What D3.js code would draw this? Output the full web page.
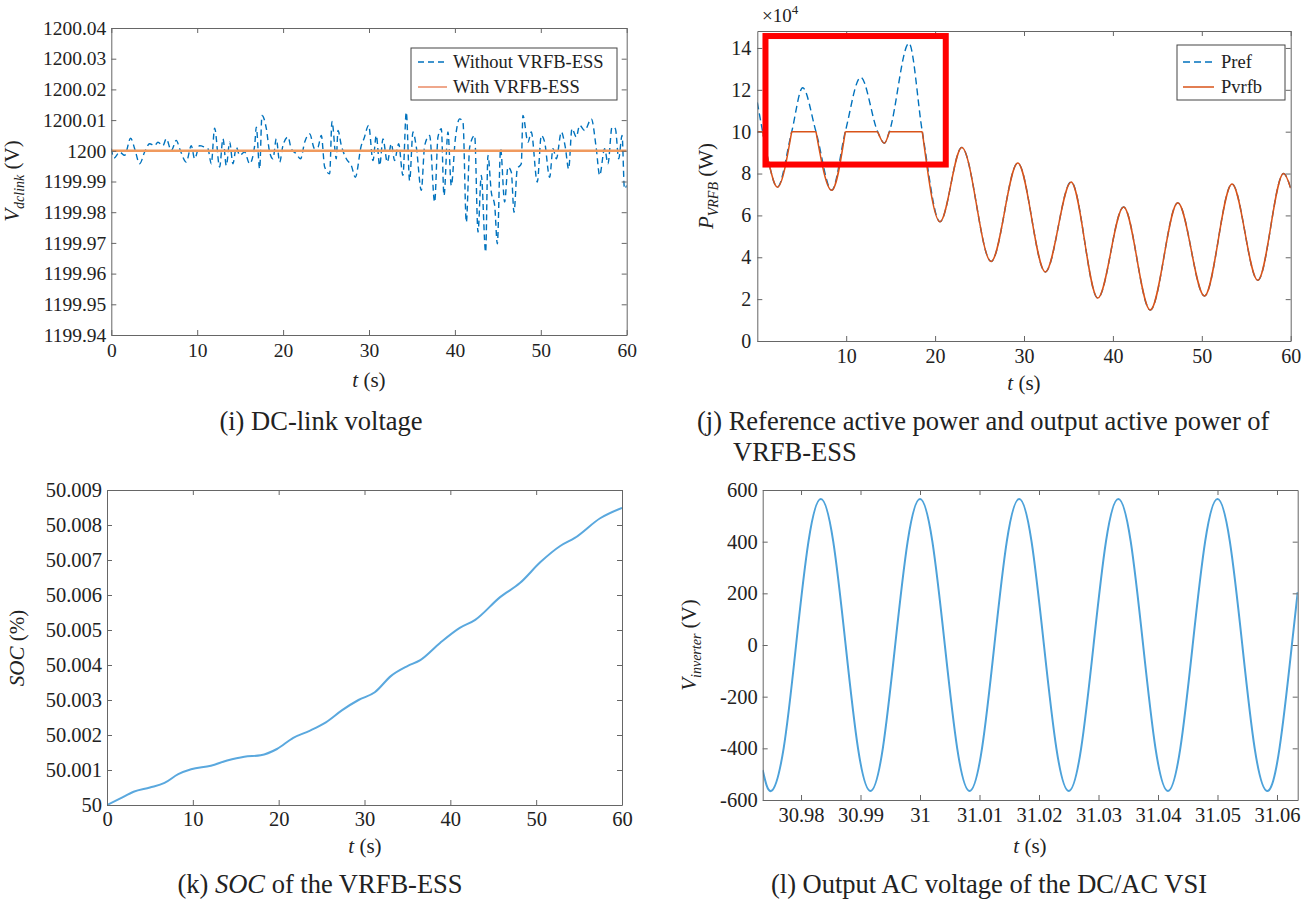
<!DOCTYPE html>
<html><head><meta charset="utf-8">
<script src="https://cdn.jsdelivr.net/npm/d3@7"></script>
<style>
body{margin:0;background:#fff}
text{font-family:"Liberation Serif","Times New Roman",serif;fill:#222}
</style></head>
<body><svg id="c" width="1312" height="901"></svg>
<script>
// ---------------- DATA ----------------
// (i) DC-link voltage
const dcTicksY = [1199.94,1199.95,1199.96,1199.97,1199.98,1199.99,1200,1200.01,1200.02,1200.03,1200.04];
const dcTickLabelsY = ["1199.94","1199.95","1199.96","1199.97","1199.98","1199.99","1200","1200.01","1200.02","1200.03","1200.04"];
const tTicks60 = [0,10,20,30,40,50,60];
const tTickLabels60 = ["0","10","20","30","40","50","60"];
const withoutVRFB = [[0.00,1200.0007],[0.31,1199.9976],[0.97,1199.9996],[1.55,1199.9985],[2.25,1200.0041],[2.72,1200.0007],[3.30,1199.9958],[3.88,1199.9996],[4.46,1200.0023],[5.04,1200.0017],[5.43,1200.0028],[6.01,1200.0017],[6.40,1200.0039],[6.98,1200.0001],[7.57,1200.0034],[7.96,1200.0007],[8.73,1199.9963],[9.31,1200.0017],[9.70,1199.9974],[10.28,1200.0017],[10.87,1200.0012],[11.25,1200.0007],[11.64,1199.9958],[12.03,1200.0074],[12.61,1199.9947],[13.00,1200.0039],[13.39,1199.9952],[13.78,1200.0028],[14.16,1199.9958],[14.55,1200.0012],[14.94,1199.9985],[15.52,1199.9996],[16.10,1199.9958],[16.69,1200.0017],[16.88,1200.0077],[17.27,1199.9941],[17.54,1200.0115],[18.05,1200.0072],[18.43,1199.9996],[18.82,1199.9974],[19.21,1200.0039],[19.60,1199.9963],[19.98,1200.0017],[20.57,1200.0045],[20.95,1200.0007],[21.54,1199.9990],[22.04,1199.9974],[22.51,1200.0028],[23.09,1200.0055],[23.67,1200.0007],[24.06,1200.0012],[24.45,1200.0050],[24.84,1199.9947],[25.42,1199.9925],[25.69,1200.0096],[26.19,1199.9974],[26.39,1200.0066],[26.78,1200.0017],[27.36,1199.9974],[27.94,1199.9952],[28.41,1199.9914],[29.10,1200.0017],[29.41,1200.0039],[29.96,1200.0083],[30.46,1199.9968],[30.85,1200.0050],[31.24,1199.9952],[31.63,1200.0039],[32.13,1199.9963],[32.60,1200.0023],[32.98,1199.9968],[33.45,1200.0023],[33.95,1199.9920],[34.34,1200.0126],[34.73,1199.9903],[35.12,1200.0061],[35.51,1200.0012],[36.09,1199.9871],[36.48,1200.0017],[37.06,1200.0050],[37.64,1199.9833],[38.03,1200.0045],[38.42,1200.0072],[38.73,1199.9854],[39.19,1200.0061],[39.58,1199.9887],[40.05,1200.0039],[40.55,1200.0104],[40.94,1200.0093],[41.33,1199.9767],[41.72,1200.0012],[42.30,1200.0050],[42.69,1199.9735],[43.07,1199.9920],[43.58,1199.9670],[43.85,1199.9985],[44.24,1199.9865],[44.63,1199.9822],[44.94,1199.9697],[45.32,1200.0007],[45.79,1199.9833],[46.18,1199.9947],[46.57,1199.9930],[46.88,1199.9800],[47.26,1199.9941],[47.73,1199.9958],[47.92,1200.0115],[48.51,1200.0028],[48.89,1200.0061],[49.59,1199.9898],[50.06,1200.0050],[50.45,1200.0028],[51.03,1199.9914],[51.42,1200.0007],[51.81,1199.9974],[52.39,1200.0061],[52.85,1200.0012],[53.24,1199.9941],[53.63,1200.0072],[54.13,1200.0045],[54.52,1200.0083],[55.10,1200.0066],[55.88,1200.0104],[56.46,1200.0007],[56.85,1199.9920],[57.43,1200.0007],[57.82,1199.9958],[58.29,1200.0077],[58.68,1200.0072],[59.07,1199.9974],[59.46,1200.0050],[59.74,1199.9876],[60.00,1199.9887]];
const withVRFB = [[0,1200],[60,1200]];
const dcLegend = ["Without VRFB-ESS","With VRFB-ESS"];

// (j) Reference / output active power (x10^4 W)
const pTicksY = [0,2,4,6,8,10,12,14];
const pTickLabelsY = ["0","2","4","6","8","10","12","14"];
const pTicksX = [10,20,30,40,50,60];
const pTickLabelsX = ["10","20","30","40","50","60"];
const prefT = [0,0.6,1.3,2.25,3.87,5.1,6.6,8.37,9.9,11.63,13.54,14.29,14.85,17.06,18.56,20.55,23.0,26.3,29.3,32.4,35.3,38.3,41.2,44.2,47.3,50.3,53.4,56.3,59.2,60];
const prefV = [11.4,10,8.5,7.35,10,12.1,10,7.2,10,12.6,10,9.45,10,14.22,10,5.7,9.25,3.8,8.5,3.3,7.6,2.05,6.4,1.48,6.6,2.15,7.5,2.9,8.0,7.3];
const pvrfbT = [0,0.6,1.3,2.25,3.87,6.6,8.37,9.9,13.54,14.29,14.85,18.56,20.55,23.0,26.3,29.3,32.4,35.3,38.3,41.2,44.2,47.3,50.3,53.4,56.3,59.2,60];
const pvrfbV = [10,10,8.5,7.35,10,10,7.2,10,10,9.45,10,10,5.7,9.25,3.8,8.5,3.3,7.6,2.05,6.4,1.48,6.6,2.15,7.5,2.9,8.0,7.3];
const pLimit = 10;
const pLegend = ["Pref","Pvrfb"];
const highlightBox = {t0:0.92, t1:21.2, v0:8.43, v1:14.57};

// (k) SOC
const socTicksY = [50,50.001,50.002,50.003,50.004,50.005,50.006,50.007,50.008,50.009];
const socTickLabelsY = ["50","50.001","50.002","50.003","50.004","50.005","50.006","50.007","50.008","50.009"];
const socT = [0,1.5,3.1,5.0,6.7,8.3,9.8,12.1,14.0,16.0,17.9,19.8,21.7,23.6,25.5,27.4,29.3,31.2,33.1,35.0,36.5,38.8,41.1,42.9,45.8,48.1,50.5,52.8,54.5,57.5,60];
const socV = [50.00000,50.00018,50.00038,50.00050,50.00063,50.00088,50.00102,50.00112,50.00127,50.00138,50.00142,50.00160,50.00192,50.00212,50.00236,50.00271,50.00300,50.00322,50.00369,50.00397,50.00414,50.00463,50.00506,50.00529,50.00594,50.00634,50.00694,50.00740,50.00763,50.00820,50.00849];

// (l) Inverter output voltage
const vTicksX = [30.98,30.99,31,31.01,31.02,31.03,31.04,31.05,31.06];
const vTickLabelsX = ["30.98","30.99","31","31.01","31.02","31.03","31.04","31.05","31.06"];
const vTicksY = [-600,-400,-200,0,200,400,600];
const vTickLabelsY = ["-600","-400","-200","0","200","400","600"];
const vinvT = [30.97356,30.97500,30.97708,30.97917,30.98125,30.98333,30.98542,30.98750,30.98958,30.99167,30.99375,30.99583,30.99792,31.00000,31.00208,31.00417,31.00625,31.00833,31.01042,31.01250,31.01458,31.01667,31.01875,31.02083,31.02292,31.02500,31.02708,31.02917,31.03125,31.03333,31.03542,31.03750,31.03958,31.04167,31.04375,31.04583,31.04792,31.05000,31.05208,31.05417,31.05625,31.05833,31.06042,31.06250,31.06348];
const vinvV = [-484,-565,-400,0,400,565,400,0,-400,-565,-400,0,400,565,400,0,-400,-565,-400,0,400,565,400,0,-400,-565,-400,0,400,565,400,0,-400,-565,-400,0,400,565,400,0,-400,-565,-400,0,205];

// ---------------- DRAWING ----------------
const svg = d3.select("#c");
const AX = "#666";

function panel(cfg){
  const x = d3.scaleLinear().domain(cfg.xd).range([cfg.L,cfg.R]);
  const y = d3.scaleLinear().domain(cfg.yd).range([cfg.B,cfg.T]);
  svg.append("clipPath").attr("id","cl"+cfg.name).append("rect")
    .attr("x",cfg.L).attr("y",cfg.T).attr("width",cfg.R-cfg.L).attr("height",cfg.B-cfg.T);
  const plot = svg.append("g").attr("clip-path",`url(#cl${cfg.name})`);
  return {x,y,plot,cfg};
}
function axes(p, o){
  const {x,y,cfg} = p;
  const g = svg.append("g");
  const fs = o.fs;
  const style = sel => {
    sel.selectAll(".domain").attr("stroke",AX).attr("stroke-width",1);
    sel.selectAll(".tick line").attr("stroke",AX).attr("stroke-width",1);
    sel.selectAll("text").attr("font-family","Liberation Serif, Times New Roman, serif")
      .attr("font-size",fs).attr("fill","#222");
    sel.attr("font-family",null).attr("font-size",null);
  };
  g.append("g").attr("transform",`translate(0,${cfg.B})`)
    .call(d3.axisBottom(x).tickValues(o.xt).tickFormat((d,i)=>o.xl[i]).tickSize(-5).tickSizeOuter(0).tickPadding(o.xpad))
    .call(style);
  g.append("g").attr("transform",`translate(0,${cfg.T})`)
    .call(d3.axisTop(x).tickValues(o.xt).tickFormat(()=>"").tickSize(-5).tickSizeOuter(0))
    .call(style);
  g.append("g").attr("transform",`translate(${cfg.L},0)`)
    .call(d3.axisLeft(y).tickValues(o.yt).tickFormat((d,i)=>o.yl[i]).tickSize(-5).tickSizeOuter(0).tickPadding(o.ypad))
    .call(style);
  g.append("g").attr("transform",`translate(${cfg.R},0)`)
    .call(d3.axisRight(y).tickValues(o.yt).tickFormat(()=>"").tickSize(-5).tickSizeOuter(0))
    .call(style);
  return g;
}
function txt(x,y,parts,opts={}){
  const t = svg.append("text").attr("x",x).attr("y",y)
    .attr("font-size",opts.fs||21).attr("text-anchor",opts.anchor||"middle");
  if(opts.rot) t.attr("transform",`rotate(-90,${x},${y})`);
  parts.forEach(pp=>{
    const s = t.append("tspan").text(pp.t);
    if(pp.i) s.attr("font-style","italic");
    if(pp.fs) s.attr("font-size",pp.fs);
    if(pp.dy!==undefined) s.attr("dy",pp.dy);
  });
  return t;
}

// ---- (i) ----
const pi = panel({name:"i",L:111.3,R:626.7,T:28,B:335,xd:[0,60],yd:[1199.94,1200.04]});
pi.plot.append("path").datum(withoutVRFB)
  .attr("d",d3.line().x(d=>pi.x(d[0])).y(d=>pi.y(d[1])).curve(d3.curveMonotoneX))
  .attr("fill","none").attr("stroke","#0072BD").attr("stroke-width",1.4).attr("stroke-dasharray","6,4");
pi.plot.append("path").datum(withVRFB)
  .attr("d",d3.line().x(d=>pi.x(d[0])).y(d=>pi.y(d[1])))
  .attr("fill","none").attr("stroke","#F09A5E").attr("stroke-width",2.4);
axes(pi,{xt:tTicks60,xl:tTickLabels60,yt:dcTicksY,yl:dcTickLabelsY,fs:19.5,xpad:8,ypad:5});
// legend (i)
{
  const lg = svg.append("g");
  lg.append("rect").attr("x",411).attr("y",48).attr("width",206).attr("height",52).attr("fill","#fff").attr("stroke","#444").attr("stroke-width",1);
  lg.append("line").attr("x1",418).attr("x2",447).attr("y1",62).attr("y2",62).attr("stroke","#0072BD").attr("stroke-width",1.4).attr("stroke-dasharray","6,4");
  lg.append("line").attr("x1",418).attr("x2",447).attr("y1",87).attr("y2",87).attr("stroke","#E8825A").attr("stroke-width",1.4);
  dcLegend.forEach((s,k)=>txt(453,68+25*k,[{t:s}],{fs:18.5,anchor:"start"}));
}
txt(19,181,[{t:"V",i:1},{t:"dclink",i:1,fs:14,dy:5},{t:" (V)",dy:-5}],{rot:1,fs:21});
txt(369,387,[{t:"t",i:1},{t:" (s)"}],{fs:21});
txt(321,430,[{t:"(i) DC-link voltage"}],{fs:26.5});

// ---- (j) ----
const pj = panel({name:"j",L:757.3,R:1290.7,T:31,B:341,xd:[0,60],yd:[0,14.81]});
pj.plot.append("path").datum(prefT.map((t,i)=>[t,prefV[i]]))
  .attr("d",d3.line().x(d=>pj.x(d[0])).y(d=>pj.y(d[1])).curve(d3.curveMonotoneX))
  .attr("fill","none").attr("stroke","#0072BD").attr("stroke-width",1.4).attr("stroke-dasharray","7,4");
{
  const pts = pvrfbT.map((t,i)=>[t,pvrfbV[i]]);
  const segs=[]; let cur=[pts[0]]; let curFlat=null;
  for(let i=1;i<pts.length;i++){
    const flat = pts[i-1][1]===pLimit && pts[i][1]===pLimit;
    if(curFlat===null) curFlat=flat;
    if(flat!==curFlat){ segs.push({flat:curFlat,pts:cur}); cur=[pts[i-1]]; curFlat=flat; }
    cur.push(pts[i]);
  }
  segs.push({flat:curFlat,pts:cur});
  segs.forEach(s=>{
    pj.plot.append("path").datum(s.pts)
      .attr("d",d3.line().x(d=>pj.x(d[0])).y(d=>pj.y(d[1])).curve(s.flat?d3.curveLinear:d3.curveMonotoneX))
      .attr("fill","none").attr("stroke","#D95319").attr("stroke-width",1.5).attr("stroke-linejoin","round");
  });
}
axes(pj,{xt:pTicksX,xl:pTickLabelsX,yt:pTicksY,yl:pTickLabelsY,fs:20,xpad:8,ypad:6});
svg.append("rect")
  .attr("x",pj.x(highlightBox.t0)).attr("y",pj.y(highlightBox.v1))
  .attr("width",pj.x(highlightBox.t1)-pj.x(highlightBox.t0))
  .attr("height",pj.y(highlightBox.v0)-pj.y(highlightBox.v1))
  .attr("fill","none").attr("stroke","#FF0000").attr("stroke-width",6);
{
  const lg = svg.append("g");
  lg.append("rect").attr("x",1177).attr("y",45).attr("width",108).attr("height",55).attr("fill","#fff").attr("stroke","#444").attr("stroke-width",1);
  lg.append("line").attr("x1",1183).attr("x2",1214).attr("y1",62).attr("y2",62).attr("stroke","#0072BD").attr("stroke-width",1.4).attr("stroke-dasharray","7,4");
  lg.append("line").attr("x1",1183).attr("x2",1214).attr("y1",87).attr("y2",87).attr("stroke","#D95319").attr("stroke-width",1.5);
  pLegend.forEach((s,k)=>txt(1221,68+25*k,[{t:s}],{fs:18.5,anchor:"start"}));
}
txt(762,22,[{t:"×10"},{t:"4",fs:13,dy:-8}],{fs:19,anchor:"start"});
txt(713,186,[{t:"P",i:1},{t:"VRFB",i:1,fs:14,dy:5},{t:" (W)",dy:-5}],{rot:1,fs:21});
txt(1024,390,[{t:"t",i:1},{t:" (s)"}],{fs:21});
txt(697,430,[{t:"(j) Reference active power and output active power of"}],{fs:26.5,anchor:"start"});
txt(733,461,[{t:"VRFB-ESS"}],{fs:26.5,anchor:"start"});

// ---- (k) ----
const pk = panel({name:"k",L:107,R:622,T:490,B:805,xd:[0,60],yd:[50,50.009]});
pk.plot.append("path").datum(socT.map((t,i)=>[t,socV[i]]))
  .attr("d",d3.line().x(d=>pk.x(d[0])).y(d=>pk.y(d[1])).curve(d3.curveMonotoneX))
  .attr("fill","none").attr("stroke","#5AA8DE").attr("stroke-width",2);
axes(pk,{xt:tTicks60,xl:tTickLabels60,yt:socTicksY,yl:socTickLabelsY,fs:20.5,xpad:6,ypad:5});
txt(24,648,[{t:"SOC",i:1},{t:" (%)"}],{rot:1,fs:21});
txt(365,853,[{t:"t",i:1},{t:" (s)"}],{fs:21});
txt(320,893,[{t:"(k) "},{t:"SOC",i:1},{t:" of the VRFB-ESS"}],{fs:26.5});

// ---- (l) ----
const pl = panel({name:"l",L:762.7,R:1297.7,T:490,B:800,xd:[30.97356,31.06348],yd:[-600,600]});
pl.plot.append("path").datum(vinvT.map((t,i)=>[t,vinvV[i]]))
  .attr("d",d3.line().x(d=>pl.x(d[0])).y(d=>pl.y(d[1])).curve(d3.curveNatural))
  .attr("fill","none").attr("stroke","#4DA2DA").attr("stroke-width",2);
axes(pl,{xt:vTicksX,xl:vTickLabelsX,yt:vTicksY,yl:vTickLabelsY,fs:20.5,xpad:7,ypad:5});
txt(696,645,[{t:"V",i:1},{t:"inverter",i:1,fs:14,dy:5},{t:" (V)",dy:-5}],{rot:1,fs:21});
txt(1030,853,[{t:"t",i:1},{t:" (s)"}],{fs:21});
txt(989,893,[{t:"(l) Output AC voltage of the DC/AC VSI"}],{fs:26.5});
</script>
</body></html>
